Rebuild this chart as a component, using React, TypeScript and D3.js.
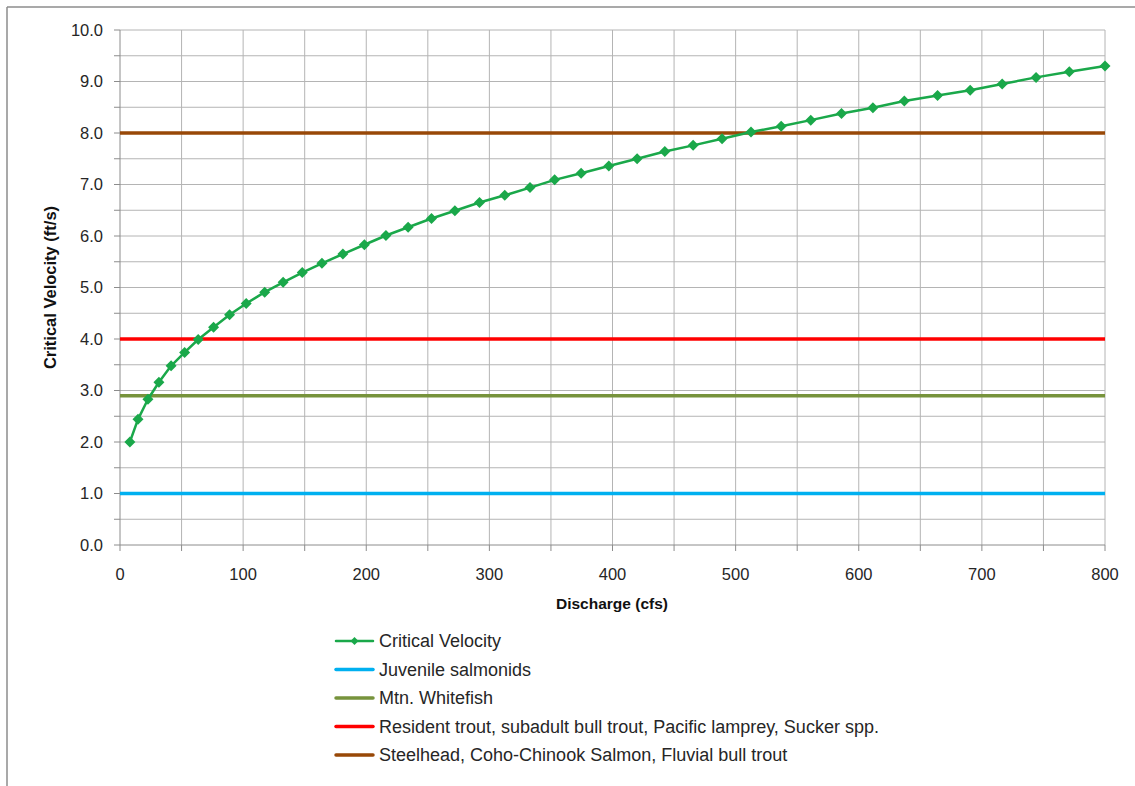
import React from "react";
import * as d3 from "d3";

// discharge (cfs) and critical velocity (ft/s)
const discharge = [
  8, 14.6, 22.7, 31.6, 41.5, 52.5, 63.5, 76, 89, 102.5, 117.5, 132.5, 148, 164,
  181, 198.5, 216, 234, 253, 272, 292, 312.5, 333, 353, 374.5, 397, 420, 442.5,
  465.5, 489, 512.5, 537, 561, 586, 611.5, 637, 664, 690.5, 716.5, 744, 771, 800,
];
const velocity = [
  2.0, 2.44, 2.83, 3.16, 3.48, 3.74, 3.99, 4.23, 4.47, 4.69, 4.91, 5.1, 5.29,
  5.47, 5.65, 5.83, 6.01, 6.17, 6.34, 6.49, 6.65, 6.79, 6.94, 7.09, 7.22, 7.36,
  7.5, 7.64, 7.76, 7.89, 8.02, 8.13, 8.25, 8.38, 8.49, 8.62, 8.73, 8.83, 8.95,
  9.08, 9.19, 9.3,
];

// species thresholds (ft/s)
const thresholdNames = [
  "Juvenile salmonids",
  "Mtn. Whitefish",
  "Resident trout, subadult bull trout, Pacific lamprey, Sucker spp.",
  "Steelhead, Coho-Chinook Salmon, Fluvial bull trout",
];
const thresholdValues = [1.0, 2.9, 4.0, 8.0];
const thresholdColors = ["#00b0f0", "#77933c", "#ff0000", "#984807"];

const seriesName = "Critical Velocity";
const seriesColor = "#1aa84a";

const xTicks = [0, 100, 200, 300, 400, 500, 600, 700, 800];
const yTicks = [0, 1, 2, 3, 4, 5, 6, 7, 8, 9, 10];

const width = 1135;
const height = 786;
const margin = { top: 30, right: 30, bottom: 241, left: 120 };

export default function App() {
  const x = d3
    .scaleLinear()
    .domain([0, 800])
    .range([margin.left, width - margin.right]);
  const y = d3
    .scaleLinear()
    .domain([0, 10])
    .range([height - margin.bottom, margin.top]);

  const x0 = x(0);
  const x1 = x(800);
  const y0 = y(0);
  const y1 = y(10);

  const xGrid = d3.range(50, 801, 50);
  const yGrid = d3.range(0.5, 10.01, 0.5);

  const line = d3
    .line<number>()
    .x((i) => x(discharge[i]))
    .y((i) => y(velocity[i]));
  const idx = d3.range(discharge.length);

  const font = "'Liberation Sans', Arial, sans-serif";
  const legendX = 336;
  const legendY = 641;
  const legendStep = 28.5;

  const legendItems = [
    { name: seriesName, color: seriesColor, marker: true },
    ...thresholdNames.map((n, i) => ({
      name: n,
      color: thresholdColors[i],
      marker: false,
    })),
  ];

  const diamond = (cx: number, cy: number, r: number) =>
    `M${cx},${cy - r}L${cx + r},${cy}L${cx},${cy + r}L${cx - r},${cy}Z`;

  return (
    <svg
      width={width}
      height={height}
      style={{ position: "absolute", left: 0, top: 0, background: "#fff" }}
      fontFamily={font}
    >
      {/* chart frame */}
      <line x1={7} x2={width} y1={7} y2={7} stroke="#8c8c8c" strokeWidth={1.5} />
      <line x1={7} x2={7} y1={7} y2={height} stroke="#8c8c8c" strokeWidth={1.5} />

      {/* grid */}
      <g stroke="#b4b4b4" strokeWidth={1}>
        {xGrid.map((v) => (
          <line key={"gx" + v} x1={x(v)} x2={x(v)} y1={y1} y2={y0} />
        ))}
        {yGrid.map((v) => (
          <line key={"gy" + v} x1={x0} x2={x1} y1={y(v)} y2={y(v)} />
        ))}
      </g>

      {/* axes */}
      <g stroke="#8c8c8c" strokeWidth={1}>
        <line x1={x0} x2={x0} y1={y1} y2={y0} />
        <line x1={x0} x2={x1} y1={y0} y2={y0} />
        {d3.range(0, 10.01, 0.5).map((v) => (
          <line key={"ty" + v} x1={x0 - 6} x2={x0} y1={y(v)} y2={y(v)} />
        ))}
        {d3.range(0, 801, 50).map((v) => (
          <line key={"tx" + v} x1={x(v)} x2={x(v)} y1={y0} y2={y0 + 6} />
        ))}
      </g>

      {yTicks.map((v) => (
        <text
          key={"ly" + v}
          x={x0 - 17}
          y={y(v)}
          dy="0.35em"
          textAnchor="end"
          fontSize={16.5}
          fill="#262626"
        >
          {v.toFixed(1)}
        </text>
      ))}
      {xTicks.map((v) => (
        <text
          key={"lx" + v}
          x={x(v)}
          y={y0 + 35}
          textAnchor="middle"
          fontSize={16.5}
          fill="#262626"
        >
          {v}
        </text>
      ))}

      <text
        x={612}
        y={609}
        textAnchor="middle"
        fontSize={15.5}
        fontWeight="bold"
        fill="#111"
      >
        Discharge (cfs)
      </text>
      <text
        transform={`translate(56,${(y0 + y1) / 2}) rotate(-90)`}
        textAnchor="middle"
        fontSize={16.5}
        fontWeight="bold"
        fill="#111"
      >
        Critical Velocity (ft/s)
      </text>

      {/* threshold lines */}
      {thresholdValues.map((v, i) => (
        <line
          key={"th" + i}
          x1={x0}
          x2={x1}
          y1={y(v)}
          y2={y(v)}
          stroke={thresholdColors[i]}
          strokeWidth={3.5}
        />
      ))}

      {/* critical velocity series */}
      <path
        d={line(idx) || ""}
        fill="none"
        stroke={seriesColor}
        strokeWidth={2.5}
        strokeLinejoin="round"
      />
      {idx.map((i) => (
        <path
          key={"pt" + i}
          d={diamond(x(discharge[i]), y(velocity[i]), 5.5)}
          fill={seriesColor}
        />
      ))}

      {/* legend */}
      {legendItems.map((item, i) => {
        const ly = legendY + i * legendStep;
        return (
          <g key={"lg" + i}>
            <line
              x1={legendX}
              x2={legendX + 37}
              y1={ly}
              y2={ly}
              stroke={item.color}
              strokeWidth={item.marker ? 2.5 : 3.5}
              strokeLinecap="round"
            />
            {item.marker && (
              <path d={diamond(legendX + 18.5, ly, 4)} fill={item.color} />
            )}
            <text
              x={legendX + 43}
              y={ly}
              dy="0.35em"
              fontSize={18}
              fill="#262626"
            >
              {item.name}
            </text>
          </g>
        );
      })}
    </svg>
  );
}
